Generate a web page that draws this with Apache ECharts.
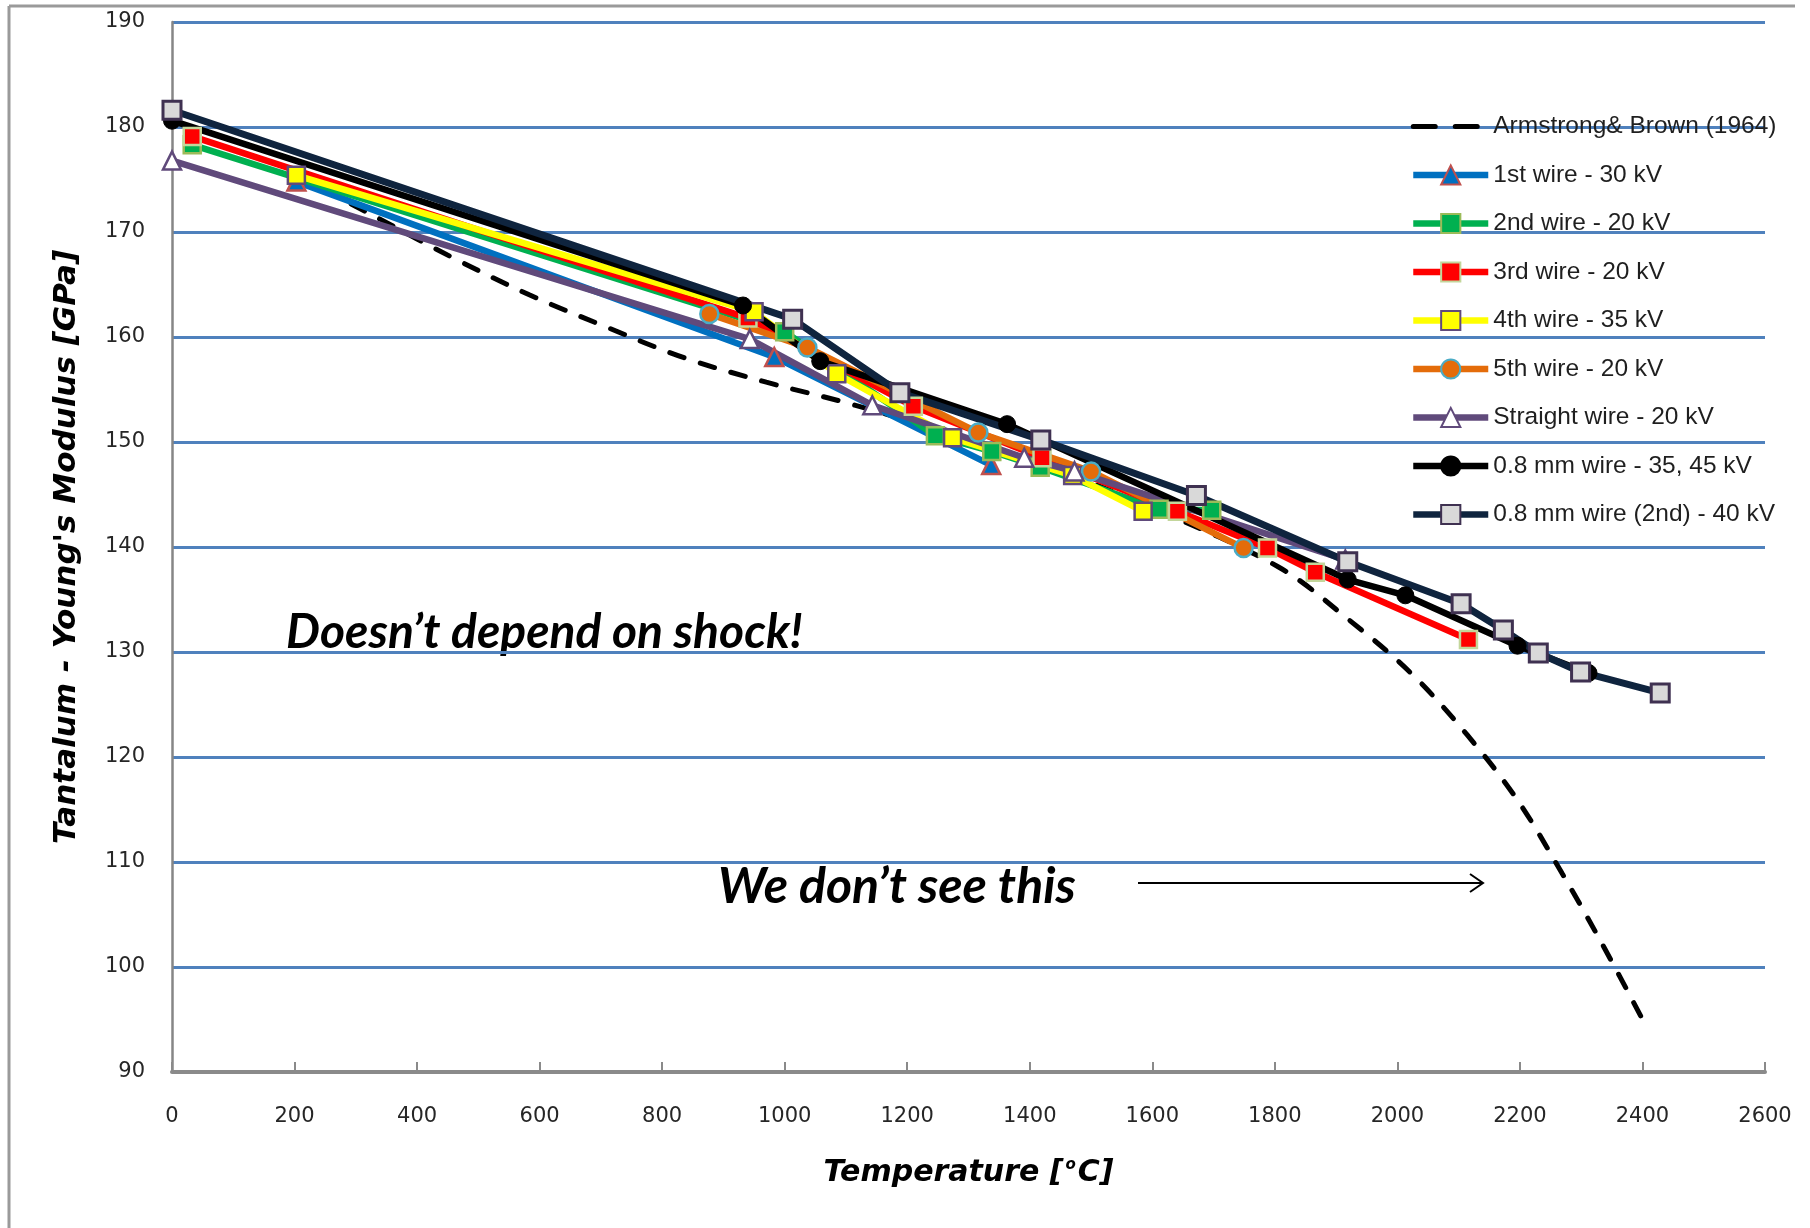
<!DOCTYPE html>
<html>
<head>
<meta charset="utf-8">
<script src="https://cdn.jsdelivr.net/npm/echarts@6/dist/echarts.min.js"></script>
<style>
html,body{margin:0;padding:0;background:#ffffff;}
#chart{width:1810px;height:1228px;}
</style>
</head>
<body>
<div id="chart"></div>
<script>
// ---- axis ticks ----
const xTickMin = 0, xTickMax = 2600, xTickStep = 200;
const yTickMin = 90, yTickMax = 190, yTickStep = 10;

// ---- series names ----
const seriesNames = [
  'Armstrong& Brown (1964)',
  '1st wire - 30 kV',
  '2nd wire - 20 kV',
  '3rd wire - 20 kV',
  '4th wire - 35 kV',
  '5th wire - 20 kV',
  'Straight wire - 20 kV',
  '0.8 mm wire - 35, 45 kV',
  '0.8 mm wire (2nd) - 40 kV'
];

// ---- data (temperature °C, Young's modulus GPa) ----
const armstrongTemp = [200, 337, 460, 584, 711, 837, 970, 1103, 1230, 1400, 1600, 1806, 1918, 2022, 2114, 2196, 2269, 2337, 2402];
const armstrongMod  = [175.5, 171.3, 167.5, 164.0, 160.9, 158.0, 155.7, 153.7, 151.5, 148.3, 143.7, 138.1, 133.2, 128.0, 122.1, 115.9, 108.9, 101.9, 94.8];

const wire1Temp = [203, 983, 1337];
const wire1Mod  = [174.8, 158.1, 147.8];

const wire2Temp = [33, 1000, 1246, 1338, 1417, 1611, 1697];
const wire2Mod  = [178.3, 160.5, 150.6, 149.1, 147.6, 143.6, 143.5];

const wire3Temp = [33, 940, 1210, 1420, 1641, 1788, 1866, 2116];
const wire3Mod  = [179.1, 161.8, 153.4, 148.5, 143.4, 139.9, 137.6, 131.2];

const wire4Temp = [203, 950, 1085, 1274, 1470, 1585];
const wire4Mod  = [175.4, 162.4, 156.5, 150.4, 146.8, 143.4];

const wire5Temp = [877, 1037, 1316, 1500, 1749];
const wire5Mod  = [162.2, 159.0, 150.9, 147.2, 139.9];

const straightTemp = [0, 943, 1143, 1391, 1473, 1915];
const straightMod  = [176.8, 159.8, 153.5, 148.5, 147.2, 138.8];

const thinTemp = [0, 932, 1058, 1363, 1919, 2013, 2196, 2312];
const thinMod  = [180.6, 163.0, 157.7, 151.7, 136.9, 135.4, 130.6, 128.0];

const thin2Temp = [0, 1013, 1188, 1418, 1672, 1919, 2104, 2173, 2230, 2299, 2429];
const thin2Mod  = [181.6, 161.7, 154.7, 150.2, 144.9, 138.6, 134.6, 132.1, 129.9, 128.1, 126.1];

function pairs(t, m) { return t.map((v, i) => [v, m[i]]); }

function lineSeries(name, t, m, lineColor, lineWidth, symbol, size, fill, border, borderW) {
  return {
    type: 'line', name: name, data: pairs(t, m),
    symbol: symbol, symbolSize: size, showSymbol: symbol !== 'none',
    lineStyle: { color: lineColor, width: lineWidth },
    itemStyle: { color: fill, borderColor: border, borderWidth: borderW },
    emphasis: { disabled: true }, animation: false
  };
}

const series = [
  {
    type: 'line', name: seriesNames[0], data: pairs(armstrongTemp, armstrongMod),
    symbol: 'none', smooth: 0.35,
    lineStyle: { color: '#000000', width: 5, type: [15, 17], cap: 'round' },
    itemStyle: { color: '#000000' },
    emphasis: { disabled: true }, animation: false
  },
  lineSeries(seriesNames[1], wire1Temp, wire1Mod, '#0070C0', 6.5, 'triangle', 18, '#0070C0', '#C0504D', 2.5),
  lineSeries(seriesNames[2], wire2Temp, wire2Mod, '#00B050', 6.5, 'rect', 17, '#00B050', '#9BBB59', 2.5),
  lineSeries(seriesNames[3], wire3Temp, wire3Mod, '#FF0000', 6.5, 'rect', 17, '#FF0000', '#C3D69B', 2.5),
  lineSeries(seriesNames[4], wire4Temp, wire4Mod, '#FFFF00', 6.5, 'rect', 17, '#FFFF00', '#604A7B', 2.5),
  lineSeries(seriesNames[5], wire5Temp, wire5Mod, '#E46C0A', 6.5, 'circle', 18, '#E46C0A', '#4BACC6', 2.5),
  lineSeries(seriesNames[6], straightTemp, straightMod, '#604A7B', 6.5, 'triangle', 18, '#FFFFFF', '#604A7B', 2.5),
  lineSeries(seriesNames[7], thinTemp, thinMod, '#000000', 6.5, 'circle', 17, '#000000', '#000000', 1),
  lineSeries(seriesNames[8], thin2Temp, thin2Mod, '#0F243E', 7, 'rect', 18, '#D9D9D9', '#3F3151', 3)
];

const legendData = seriesNames.map((n, i) => i === 0
  ? { name: n, itemStyle: { opacity: 0, color: 'rgba(0,0,0,0)', borderWidth: 0 }, lineStyle: { width: 5, type: [22, 20], cap: 'round' } }
  : { name: n });

const tickFont = { fontFamily: 'DejaVu Sans', fontSize: 21, color: '#262626' };
const titleFont = { fontFamily: 'DejaVu Sans', fontWeight: 'bold', fontStyle: 'italic', color: '#000000' };

const chart = echarts.init(document.getElementById('chart'), null, { renderer: 'canvas' });
chart.setOption({
  animation: false,
  backgroundColor: '#ffffff',
  grid: { left: 172, right: 45, top: 22, bottom: 156, containLabel: false },
  xAxis: {
    type: 'value', min: xTickMin, max: xTickMax, interval: xTickStep,
    name: 'Temperature [{sup|o}C]', nameLocation: 'middle', nameGap: 86,
    nameTextStyle: Object.assign({ fontSize: 30 }, titleFont, {
      rich: { sup: { fontFamily: 'DejaVu Sans', fontWeight: 'bold', fontStyle: 'italic', fontSize: 15, color: '#000', verticalAlign: 'top', padding: [0, 2, 12, 2] } }
    }),
    axisLine: { show: true, onZero: false, lineStyle: { color: '#8a8a8a', width: 4 } },
    axisTick: { show: true, inside: true, length: 10, lineStyle: { color: '#8a8a8a', width: 2 } },
    axisLabel: Object.assign({ margin: 34, showMaxLabel: true, showMinLabel: true, formatter: function (v) { return String(v); } }, tickFont),
    splitLine: { show: false }
  },
  yAxis: {
    type: 'value', min: yTickMin, max: yTickMax, interval: yTickStep,
    name: 'Tantalum - Young\'s Modulus [GPa]', nameLocation: 'middle', nameRotate: 90, nameGap: 90,
    nameTextStyle: Object.assign({ fontSize: 31 }, titleFont),
    axisLine: { show: true, onZero: false, lineStyle: { color: '#868686', width: 2.5 } },
    axisTick: { show: false },
    axisLabel: Object.assign({ margin: 27, formatter: function (v) { return String(v); } }, tickFont),
    splitLine: { show: true, showMinLine: false, lineStyle: { color: '#4F81BD', width: 3 } }
  },
  legend: {
    orient: 'vertical', left: 1410, top: 114, padding: 0,
    itemWidth: 75, itemHeight: 24, itemGap: 23.5,
    selectedMode: false,
    lineStyle: { width: 6.5 },
    textStyle: { fontFamily: 'Liberation Sans', fontSize: 24.5, color: '#1f1f1f' },
    data: legendData
  },
  series: series,
  graphic: [
    { type: 'line', silent: true, shape: { x1: 9, y1: 6, x2: 1795, y2: 6 }, style: { stroke: '#9a9a9a', lineWidth: 3 } },
    { type: 'line', silent: true, shape: { x1: 9, y1: 6, x2: 9, y2: 1228 }, style: { stroke: '#9a9a9a', lineWidth: 3 } },
    { type: 'text', silent: true, x: 286, y: 633, style: { text: 'Doesn\u2019t depend on shock!', fontFamily: 'Lato', fontWeight: 'bold', fontStyle: 'italic', fontSize: 48, fill: '#000', verticalAlign: 'middle' } },
    { type: 'text', silent: true, x: 718, y: 887, style: { text: 'We don\u2019t see this', fontFamily: 'Lato', fontWeight: 'bold', fontStyle: 'italic', fontSize: 50, fill: '#000', verticalAlign: 'middle' } },
    { type: 'line', silent: true, shape: { x1: 1138, y1: 883, x2: 1483, y2: 883 }, style: { stroke: '#000', lineWidth: 2 } },
    { type: 'polyline', silent: true, shape: { points: [[1470, 874], [1483, 883], [1470, 892]] }, style: { stroke: '#000', lineWidth: 2, fill: null } }
  ]
});
</script>
</body>
</html>
